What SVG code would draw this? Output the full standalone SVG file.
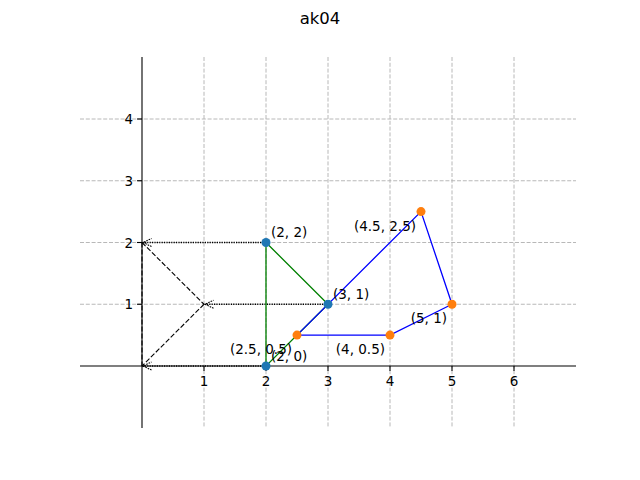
<svg xmlns="http://www.w3.org/2000/svg" width="640" height="480" viewBox="0 0 640 480">
<defs>
<style>
text{font-family:"DejaVu Sans","Liberation Sans",sans-serif;font-size:13.5px;fill:#000}
.grid{stroke:#b0b0b0;stroke-width:0.9;stroke-dasharray:4,1.8;fill:none}
.spine{stroke:#000;stroke-width:1.1;fill:none}
.tick{stroke:#000;stroke-width:1.1}
.dot{stroke:#000;stroke-width:1.3;stroke-dasharray:1.2,1.2;fill:none}
.dash{stroke:#000;stroke-width:1.1;stroke-dasharray:5,2;fill:none}
.green{stroke:#008000;stroke-width:1.3;fill:none}
.blue{stroke:#0000ff;stroke-width:1.3;fill:none}
.pb{fill:#1f77b4}
.po{fill:#ff7f0e}
</style>
<marker id="ah" viewBox="0 0 12 12" refX="10.5" refY="6" markerWidth="12" markerHeight="12" markerUnits="userSpaceOnUse" orient="auto">
<path d="M2,2 L10.5,6 L2,10" fill="none" stroke="#000" stroke-width="1.1" stroke-dasharray="1.6,1"/>
</marker>
</defs>
<rect width="640" height="480" fill="#fff"/>
<text x="320" y="24" text-anchor="middle" style="font-size:16.5px">ak04</text>
<g id="grid">
<line class="grid" x1="204" y1="57" x2="204" y2="428"/>
<line class="grid" x1="266" y1="57" x2="266" y2="428"/>
<line class="grid" x1="328" y1="57" x2="328" y2="428"/>
<line class="grid" x1="390" y1="57" x2="390" y2="428"/>
<line class="grid" x1="452" y1="57" x2="452" y2="428"/>
<line class="grid" x1="514" y1="57" x2="514" y2="428"/>
<line class="grid" x1="80" y1="304.25" x2="576" y2="304.25"/>
<line class="grid" x1="80" y1="242.5" x2="576" y2="242.5"/>
<line class="grid" x1="80" y1="180.75" x2="576" y2="180.75"/>
<line class="grid" x1="80" y1="119" x2="576" y2="119"/>
</g>
<g id="axes">
<line class="spine" x1="80" y1="366" x2="576" y2="366"/>
<line class="spine" x1="142" y1="57" x2="142" y2="428"/>
<g class="tick">
<line x1="204" y1="366" x2="204" y2="371"/>
<line x1="266" y1="366" x2="266" y2="371"/>
<line x1="328" y1="366" x2="328" y2="371"/>
<line x1="390" y1="366" x2="390" y2="371"/>
<line x1="452" y1="366" x2="452" y2="371"/>
<line x1="514" y1="366" x2="514" y2="371"/>
<line x1="137" y1="304.25" x2="142" y2="304.25"/>
<line x1="137" y1="242.5" x2="142" y2="242.5"/>
<line x1="137" y1="180.75" x2="142" y2="180.75"/>
<line x1="137" y1="119" x2="142" y2="119"/>
</g>
<g text-anchor="middle">
<text x="204" y="386">1</text>
<text x="266" y="386">2</text>
<text x="328" y="386">3</text>
<text x="390" y="386">4</text>
<text x="452" y="386">5</text>
<text x="514" y="386">6</text>
</g>
<g text-anchor="end">
<text x="133" y="309">1</text>
<text x="133" y="247.5">2</text>
<text x="133" y="185.75">3</text>
<text x="133" y="124">4</text>
</g>
</g>
<g id="connectors">
<line class="dot" x1="266" y1="242.5" x2="143" y2="242.5" marker-end="url(#ah)"/>
<line class="dot" x1="328" y1="304.25" x2="205" y2="304.25" marker-end="url(#ah)"/>
<line class="dot" x1="266" y1="366" x2="143" y2="366" marker-end="url(#ah)"/>
<line class="dash" x1="142" y1="242.5" x2="204" y2="304.25"/>
<line class="dash" x1="204" y1="304.25" x2="142" y2="366"/>
<line class="dash" x1="142" y1="242.5" x2="142" y2="366"/>
<polygon class="green" points="266,242.5 328,304.25 266,366"/>
<polygon class="blue" points="297,335.1 421,211.6 452,304.25 390,335.1"/>
</g>
<g id="triangle-points">
<circle class="pb" cx="266" cy="242.5" r="4.5"/>
<circle class="pb" cx="328" cy="304.25" r="4.5"/>
<circle class="pb" cx="266" cy="366" r="4.5"/>
<text x="271" y="237">(2, 2)</text>
<text x="333" y="299">(3, 1)</text>
<text x="271" y="361">(2, 0)</text>
</g>
<g id="quad-points">
<circle class="po" cx="297" cy="335.1" r="4.5"/>
<circle class="po" cx="421" cy="211.6" r="4.5"/>
<circle class="po" cx="452" cy="304.25" r="4.5"/>
<circle class="po" cx="390" cy="335.1" r="4.5"/>
<g text-anchor="end">
<text x="292" y="354">(2.5, 0.5)</text>
<text x="416" y="230.5">(4.5, 2.5)</text>
<text x="447" y="323">(5, 1)</text>
<text x="385" y="354">(4, 0.5)</text>
</g>
</g>
</svg>
